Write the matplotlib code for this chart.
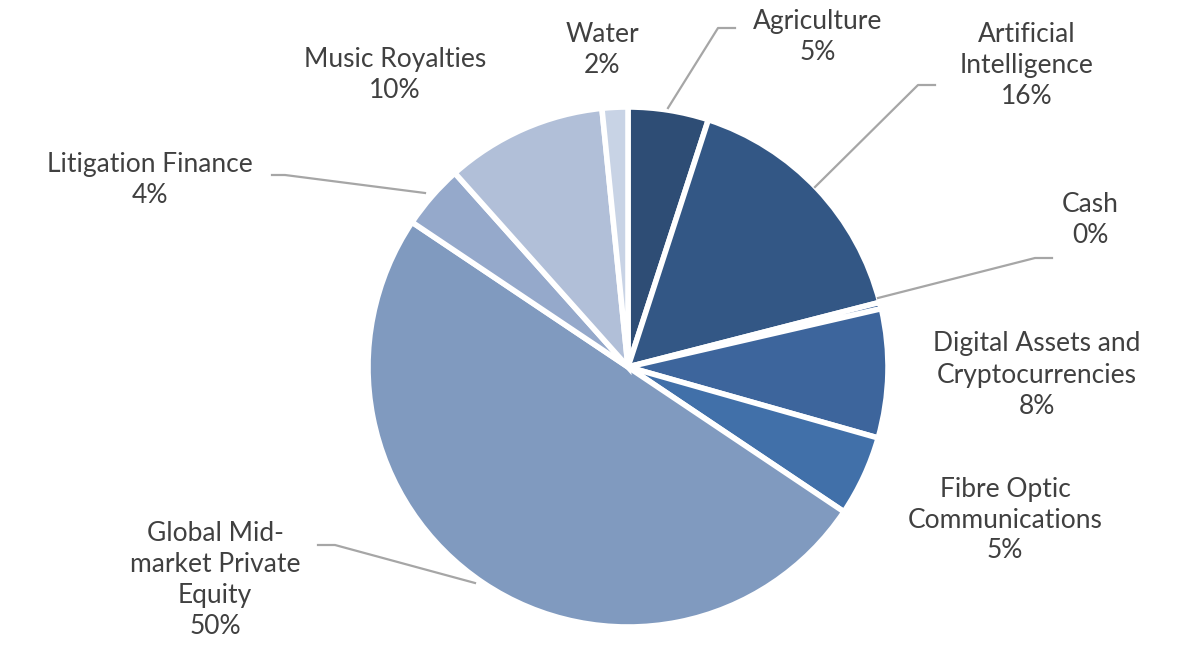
import matplotlib.pyplot as plt

# data
labels = ["Agriculture", "Artificial\nIntelligence", "Cash", "Digital Assets and\nCryptocurrencies",
          "Fibre Optic\nCommunications", "Global Mid-\nmarket Private\nEquity", "Litigation Finance",
          "Music Royalties", "Water"]
values = [5, 16, 0.4, 8, 5, 50, 4, 10, 1.6]
pct_text = ["5%", "16%", "0%", "8%", "5%", "50%", "4%", "10%", "2%"]
colors = ["#2e4d75", "#335785", "#38609a", "#3d659c", "#4170a9", "#809abf", "#95a9cb", "#b1bfd8", "#c8d3e5"]

W, H = 1196, 657
cx, cy, r = 628, 367, 260

fig = plt.figure(figsize=(W / 100, H / 100), dpi=100)
ax = fig.add_axes([(cx - r) / W, (H - cy - r) / H, 2 * r / W, 2 * r / H])
ax.pie(values, colors=colors, startangle=90, counterclock=False, radius=1,
       wedgeprops=dict(edgecolor="white", linewidth=4))
ax.set_xlim(-1, 1)
ax.set_ylim(-1, 1)
ax.set_aspect("equal")


def d(px, py):
    return (px - cx) / r, (cy - py) / r


# label centres in pixels
label_pos = [(818, 37), (1027, 65), (1090, 220), (1037, 375), (1005, 520),
             (215, 580), (150, 180), (395, 75), (602, 50)]
for lab, p, pos in zip(labels, pct_text, label_pos):
    x, y = d(*pos)
    ax.text(x, y, lab + "\n" + p, ha="center", va="center", fontsize=19,
            family="Lato", color="#404040", linespacing=1.3, clip_on=False)

# leader lines
leaders = [
    [(668, 108), (718, 28), (735, 28)],
    [(815, 187), (918, 85), (935, 85)],
    [(878, 298), (1035, 258), (1052, 258)],
    [(475, 583), (335, 545), (318, 545)],
    [(425, 193), (285, 175), (272, 175)],
]
for pts in leaders:
    xs, ys = zip(*[d(*p) for p in pts])
    ax.plot(xs, ys, color="#a6a6a6", linewidth=1.6, clip_on=False)

fig.savefig("out.png", dpi=100)
